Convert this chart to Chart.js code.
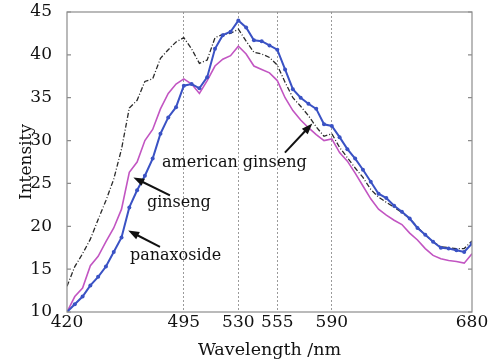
<!DOCTYPE html>
<html>
<head>
<meta charset="utf-8">
<script src="https://cdn.jsdelivr.net/npm/chart.js@4.4.0/dist/chart.umd.min.js"></script>
<style>
  html, body { margin: 0; padding: 0; background: #fff; }
  #wrap { width: 503px; height: 363px; position: relative; }
</style>
</head>
<body>
<div id="wrap"><canvas id="grafico"></canvas></div>
<script>
const comprimentos = [420, 425, 430, 435, 440, 445, 450, 455, 460, 465, 470, 475, 480, 485, 490,
  495, 500, 505, 510, 515, 520, 525, 530, 535, 540, 545, 550, 555, 560, 565, 570, 575, 580,
  585, 590, 595, 600, 605, 610, 615, 620, 625, 630, 635, 640, 645, 650, 655, 660, 665, 670,
  675, 680];

const panaxoside = [10.0, 10.9, 11.8, 13.1, 14.1, 15.3, 17.0, 18.7, 22.2, 24.2, 25.9, 27.9, 30.8,
  32.7, 33.9, 36.4, 36.6, 36.1, 37.4, 40.7, 42.3, 42.7, 44.0, 43.2, 41.7, 41.6, 41.1, 40.6,
  38.3, 36.0, 35.0, 34.3, 33.7, 31.9, 31.7, 30.4, 29.0, 27.9, 26.6, 25.2, 23.8, 23.3, 22.4,
  21.7, 20.9, 19.8, 19.0, 18.2, 17.5, 17.4, 17.2, 17.0, 18.0];

const ginseng = [10.0, 11.8, 12.8, 15.4, 16.5, 18.2, 19.8, 22.0, 26.3, 27.5, 30.0, 31.3, 33.7,
  35.5, 36.6, 37.2, 36.6, 35.5, 37.0, 38.7, 39.5, 39.9, 41.0, 40.1, 38.7, 38.3, 37.9, 37.0,
  35.0, 33.5, 32.4, 31.5, 30.7, 30.0, 30.2, 28.6, 27.6, 26.2, 24.7, 23.2, 22.0, 21.3, 20.7,
  20.2, 19.2, 18.4, 17.4, 16.6, 16.2, 16.0, 15.9, 15.7, 16.8];

const americanGinseng = [13.0, 15.3, 16.8, 18.5, 20.8, 23.0, 25.5, 29.0, 33.8, 34.7, 36.9, 37.2,
  39.6, 40.6, 41.5, 42.0, 40.7, 39.0, 39.4, 42.0, 42.4, 42.5, 43.0, 41.6, 40.3, 40.1, 39.7,
  38.8, 36.8, 35.0, 34.0, 32.9, 31.6, 30.5, 30.8, 29.2, 28.0, 26.8, 25.7, 24.3, 23.4, 22.8,
  22.2, 21.6, 20.9, 19.9, 19.0, 18.2, 17.6, 17.5, 17.4, 17.4, 18.3];

const ticksX = [420, 495, 530, 555, 590, 680];
const ticksY = [10, 15, 20, 25, 30, 35, 40, 45];

// rótulos com seta: texto, posição do texto, cauda e ponta da seta (em unidades do gráfico)
const rotulos = [
  { texto: "american ginseng", pos: [481, 27.4], de: [559.9, 28.6], para: [577.5, 32.0] },
  { texto: "ginseng", pos: [471.3, 22.7], de: [486.1, 23.6], para: [462.6, 25.7] },
  { texto: "panaxoside", pos: [460.4, 16.5], de: [479.7, 17.6], para: [459.3, 19.5] }
];

const fonte = "'DejaVu Serif', 'Liberation Serif', serif";
const pontos = (serie) => comprimentos.map((x, i) => ({ x: x, y: serie[i] }));

const moldura = {
  id: "moldura",
  afterDatasetsDraw(chart) {
    const { ctx, chartArea: a, scales } = chart;
    ctx.save();
    ctx.strokeStyle = "#8c8c8c";
    ctx.lineWidth = 1.2;
    ctx.strokeRect(a.left, a.top, a.right - a.left, a.bottom - a.top);
    ticksY.forEach(v => {
      const y = scales.y.getPixelForValue(v);
      ctx.beginPath();
      ctx.moveTo(a.left, y); ctx.lineTo(a.left + 4, y);
      ctx.moveTo(a.right, y); ctx.lineTo(a.right - 4, y);
      ctx.stroke();
    });

    ctx.fillStyle = "#111";
    ctx.strokeStyle = "#111";
    ctx.font = "16px " + fonte;
    ctx.textBaseline = "middle";
    ctx.textAlign = "left";
    rotulos.forEach(r => {
      ctx.fillText(r.texto, scales.x.getPixelForValue(r.pos[0]), scales.y.getPixelForValue(r.pos[1]));
      const x1 = scales.x.getPixelForValue(r.de[0]), y1 = scales.y.getPixelForValue(r.de[1]);
      const x2 = scales.x.getPixelForValue(r.para[0]), y2 = scales.y.getPixelForValue(r.para[1]);
      const ang = Math.atan2(y2 - y1, x2 - x1);
      ctx.lineWidth = 2;
      ctx.beginPath();
      ctx.moveTo(x1, y1);
      ctx.lineTo(x2 - 7 * Math.cos(ang), y2 - 7 * Math.sin(ang));
      ctx.stroke();
      ctx.beginPath();
      ctx.moveTo(x2, y2);
      ctx.lineTo(x2 - 11 * Math.cos(ang) + 4 * Math.sin(ang), y2 - 11 * Math.sin(ang) - 4 * Math.cos(ang));
      ctx.lineTo(x2 - 11 * Math.cos(ang) - 4 * Math.sin(ang), y2 - 11 * Math.sin(ang) + 4 * Math.cos(ang));
      ctx.closePath();
      ctx.fill();
    });
    ctx.restore();
  }
};

document.addEventListener("DOMContentLoaded", () => {
  Chart.defaults.font.family = fonte;
  Chart.defaults.color = "#111";

  new Chart(document.getElementById("grafico"), {
    type: "line",
    data: {
      datasets: [
        {
          label: "panaxoside",
          data: pontos(panaxoside),
          borderColor: "#3a52c4",
          backgroundColor: "#3a52c4",
          borderWidth: 2,
          pointRadius: 2,
          pointBorderWidth: 0,
          tension: 0
        },
        {
          label: "ginseng",
          data: pontos(ginseng),
          borderColor: "#c255c2",
          borderWidth: 1.6,
          pointRadius: 0,
          tension: 0
        },
        {
          label: "american ginseng",
          data: pontos(americanGinseng),
          borderColor: "#2a2a2a",
          borderWidth: 1.3,
          borderDash: [5, 2, 1, 2],
          pointRadius: 0,
          tension: 0
        }
      ]
    },
    options: {
      responsive: true,
      maintainAspectRatio: false,
      animation: false,
      layout: { padding: { left: 0, right: 31, top: 12, bottom: 0 } },
      plugins: {
        legend: { display: false },
        tooltip: { enabled: false }
      },
      scales: {
        x: {
          type: "linear",
          min: 420,
          max: 680,
          afterBuildTicks: (scale) => { scale.ticks = ticksX.map(v => ({ value: v })); },
          afterFit: (scale) => {
            scale.height = 51;
            scale.paddingLeft = 0;
            scale.paddingRight = 0;
          },
          ticks: { font: { size: 17 }, padding: 0, maxRotation: 0, autoSkip: false },
          grid: {
            drawTicks: false,
            color: (c) => (c.tick && (c.tick.value === 420 || c.tick.value === 680)) ? "rgba(0,0,0,0)" : "#9a9a9a",
            lineWidth: 1
          },
          border: { display: false, dash: [2, 2] },
          title: {
            display: true,
            text: "Wavelength /nm",
            font: { size: 17.5 },
            padding: { top: 0, bottom: 2 }
          }
        },
        y: {
          min: 10,
          max: 45,
          afterBuildTicks: (scale) => { scale.ticks = ticksY.map(v => ({ value: v })); },
          afterFit: (scale) => {
            scale.width = 67;
            scale.paddingTop = 0;
            scale.paddingBottom = 0;
          },
          ticks: { font: { size: 17 }, padding: 7 },
          grid: { display: false },
          border: { display: false },
          title: {
            display: true,
            text: "Intensity",
            font: { size: 17 },
            padding: { top: 16, bottom: 0 }
          }
        }
      }
    },
    plugins: [moldura]
  });
});
</script>
</body>
</html>
